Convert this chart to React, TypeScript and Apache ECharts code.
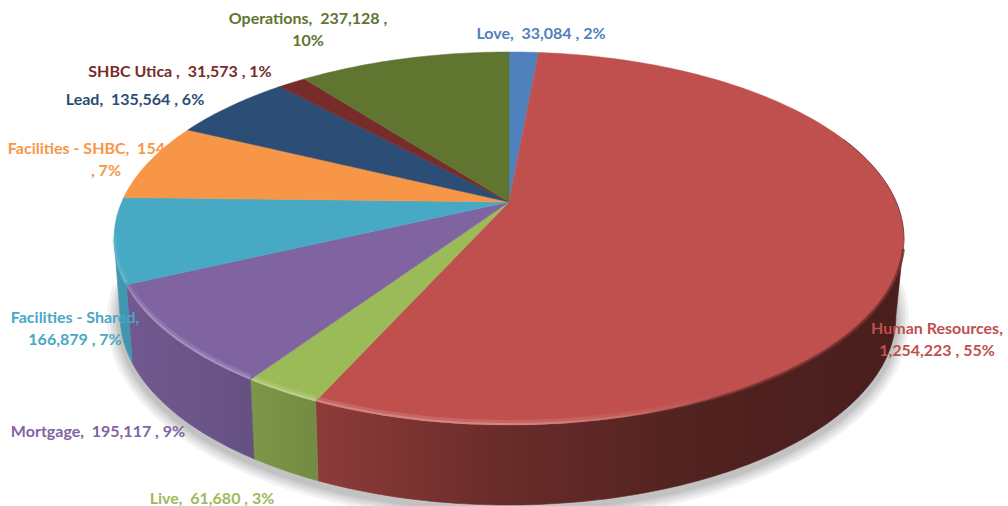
import React, { useEffect, useRef } from "react";
import * as echarts from "echarts";

const categories = ["Love", "Human Resources", "Live", "Mortgage", "Facilities - Shared", "Facilities - SHBC", "Lead", "SHBC Utica", "Operations"];
const values = [33084, 1254223, 61680, 195117, 166879, 154043, 135564, 31573, 237128];
const labelTexts = [
  "Love,  33,084 , 2%",
  "Human Resources,\n1,254,223 , 55%",
  "Live,  61,680 , 3%",
  "Mortgage,  195,117 , 9%",
  "Facilities - Shared,\n166,879 , 7%",
  "Facilities - SHBC,  154,043 ,\n, 7%",
  "Lead,  135,564 , 6%",
  "SHBC Utica ,  31,573 , 1%",
  "Operations,  237,128 ,\n10%",
];
const colors = ["#4F81BD", "#BF504D", "#9BBB59", "#8064A2", "#47A9C4", "#F79646", "#2C4D75", "#772C2A", "#5F7530"];
const labelCentres = [
  [541, 32], [937, 338], [212, 497], [98, 430], [75, 327], [106, 158], [135, 98], [180, 70], [308, 28],
];

// projection of the pie disc (a circle seen in perspective)
const K = 0.1957;
const TOP = { cx: 509, ay: 202, a: 387.3, b: 179.4 };
const BOTTOM = { cx: 508, ay: 279, a: 380.4, b: 181.8 };
const SIDE_FROM = 101.3;
const SIDE_TO = 258.7;
const total = values.reduce((s, v) => s + v, 0);
const stops: number[] = [0];
values.forEach((v, i) => stops.push(stops[i] + (v / total) * 360));

function pt(g: typeof TOP, deg: number, dy = 0): number[] {
  const t = (deg * Math.PI) / 180;
  const w = 1 + K * Math.cos(t);
  return [g.cx + (g.a * Math.sin(t)) / w, g.ay - (g.b * Math.cos(t)) / w + dy];
}
function arc(g: typeof TOP, from: number, to: number, dy = 0): number[][] {
  const out: number[][] = [];
  const n = Math.max(2, Math.ceil(Math.abs(to - from)));
  for (let i = 0; i <= n; i++) out.push(pt(g, from + ((to - from) * i) / n, dy));
  return out;
}
function rgb(hex: string): number[] {
  return [1, 3, 5].map((i) => parseInt(hex.slice(i, i + 2), 16));
}
const X0 = 113;
const X1 = 905;
const shadeStops: number[][] = [[113, 0.9], [255, 0.8], [320, 0.74], [500, 0.55], [700, 0.42], [905, 0.38]];
function sideFill(hex: string) {
  const c = rgb(hex);
  return new echarts.graphic.LinearGradient(
    X0, 0, X1, 0,
    shadeStops.map(([x, f]) => ({
      offset: (x - X0) / (X1 - X0),
      color: `rgb(${c.map((v) => Math.round(v * f)).join(",")})`,
    })),
    true
  );
}
function rimLight(hex: string, k: number) {
  const c = rgb(hex).map((v) => Math.round(v + (255 - v) * 0.38)).join(",");
  const s: number[][] = [[113, 0.25], [150, 0.75], [500, 0.85], [640, 0.35], [720, 0], [905, 0]];
  return new echarts.graphic.LinearGradient(
    X0, 0, X1, 0,
    s.map(([x, a]) => ({ offset: (x - X0) / (X1 - X0), color: `rgba(${c},${a * k})` })),
    true
  );
}
function rimDark(hex: string) {
  const c = rgb(hex).map((v) => Math.round(v * 0.6)).join(",");
  const s: number[][] = [[113, 0], [600, 0], [760, 0.7], [905, 0.8]];
  return new echarts.graphic.LinearGradient(
    X0, 0, X1, 0,
    s.map(([x, a]) => ({ offset: (x - X0) / (X1 - X0), color: `rgba(${c},${a})` })),
    true
  );
}

function renderBase() {
  const edge = arc(BOTTOM, SIDE_FROM - 8, SIDE_TO + 8, 4);
  const children = [26, 20, 15, 10, 6].map((w) => ({
    type: "polyline",
    shape: { points: edge },
    style: { fill: "none", stroke: "rgba(0,0,0,0.05)", lineWidth: w, lineCap: "round", lineJoin: "round" },
  }));
  return { type: "group", children };
}

function renderSlice(params: any, api: any) {
  const i = params.dataIndex;
  api.value(0);
  const from = stops[i];
  const to = stops[i + 1];
  const col = colors[i];
  const children: any[] = [];
  const sFrom = Math.max(from, SIDE_FROM);
  const sTo = Math.min(to, SIDE_TO);
  if (sTo > sFrom) {
    const fill = sideFill(col);
    children.push({
      type: "polygon",
      shape: { points: [...arc(TOP, sFrom, sTo), ...arc(BOTTOM, sTo, sFrom)] },
      style: { fill, stroke: fill, lineWidth: 0.6 },
    });
  }
  children.push({
    type: "polygon",
    shape: { points: [[TOP.cx, TOP.ay], ...arc(TOP, from, to)] },
    style: { fill: col, stroke: col, lineWidth: 0.5 },
  });
  if (sTo > sFrom) {
    children.push({
      type: "polyline",
      shape: { points: arc(TOP, sFrom + 3, sTo, 0.5) },
      style: { fill: "none", stroke: rimDark(col), lineWidth: 3 },
    });
    children.push({
      type: "polyline",
      shape: { points: arc(TOP, sFrom, sTo, -2.5) },
      style: { fill: "none", stroke: rimLight(col, 0.4), lineWidth: 5 },
    });
    children.push({
      type: "polyline",
      shape: { points: arc(TOP, sFrom, sTo, -1) },
      style: { fill: "none", stroke: rimLight(col, 0.85), lineWidth: 2 },
    });
  }
  if (from < SIDE_FROM && to > SIDE_FROM) {
    children.push({
      type: "polyline",
      shape: { points: arc(TOP, 68, SIDE_FROM) },
      style: { fill: "none", stroke: "rgba(60,20,20,0.5)", lineWidth: 1 },
    });
  }
  return { type: "group", children };
}

function renderLabel(params: any, api: any) {
  const i = params.dataIndex;
  api.value(0);
  const [x, y] = labelCentres[i];
  return {
    type: "text",
    style: {
      text: labelTexts[i],
      x,
      y,
      fill: colors[i],
      font: 'bold 16px Lato, "Open Sans", sans-serif',
      lineHeight: 22,
      align: "center",
      verticalAlign: "middle",
    },
  };
}

export default function App() {
  const ref = useRef<HTMLDivElement>(null);
  useEffect(() => {
    const chart = echarts.init(ref.current!, undefined, { renderer: "svg" });
    const data = values.map((v, i) => ({ name: categories[i], value: [v] }));
    chart.setOption({
      animation: false,
      backgroundColor: "#ffffff",
      series: [
        { type: "custom", coordinateSystem: "none", silent: true, z: 1, renderItem: renderBase, data: [[total]] },
        { type: "custom", coordinateSystem: "none", silent: true, z: 2, renderItem: renderSlice, data },
        { type: "custom", coordinateSystem: "none", silent: true, z: 3, renderItem: renderLabel, data },
      ],
    });
    return () => chart.dispose();
  }, []);
  return (
    <div
      ref={ref}
      style={{ position: "fixed", left: 0, top: 0, width: 1008, height: 506 }}
    />
  );
}
